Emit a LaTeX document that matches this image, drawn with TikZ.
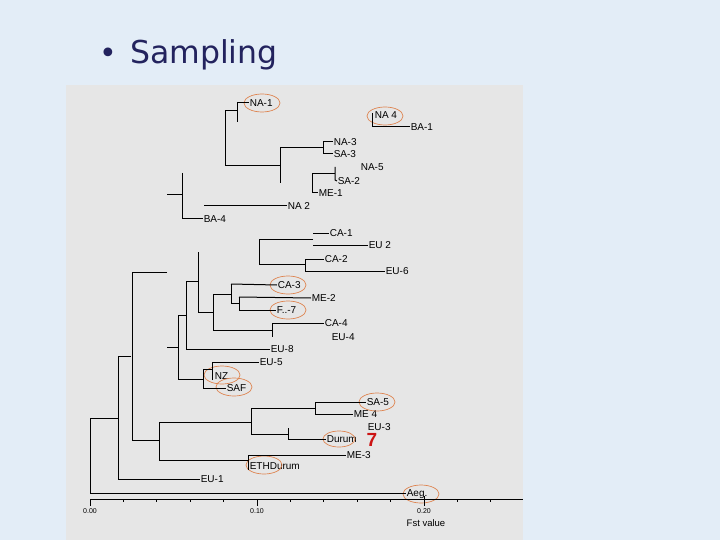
\documentclass[tikz,border=0pt]{standalone}
\usepackage{fontspec}
\setsansfont{Liberation Sans}
\newfontfamily\titlefont{DejaVu Sans}
\usetikzlibrary{shapes.geometric}
\definecolor{bgblue}{HTML}{E3EDF7}
\definecolor{panelgray}{HTML}{E6E6E6}
\definecolor{ringcol}{HTML}{DE8450}
\definecolor{navy}{HTML}{23235E}
\definecolor{markred}{HTML}{CC1414}
\tikzset{every node/.append style={font=\sffamily}}

\begin{document}
\begin{tikzpicture}[
  x=1pt, y=-1pt,
  branch/.style={line width=1pt, black},
  leaf/.style={anchor=west, inner sep=0.6pt, text height=7.2pt, text depth=0pt,
    font=\sffamily\fontsize{10}{10}\selectfont},
  ring/.style={draw=ringcol, line width=0.7pt, ellipse, inner sep=0pt,
    minimum width=36pt, minimum height=18pt},
  ticklabel/.style={font=\sffamily\fontsize{7}{7}\selectfont, inner sep=0pt}
]
\useasboundingbox (0,0) rectangle (720,540);
\fill[bgblue] (0,0) rectangle (720,540);
\fill[panelgray] (66,85) rectangle (523,540);

% title
\node[anchor=base, inner sep=0, text=navy, font=\titlefont\fontsize{30}{30}\selectfont] (dot) at (108,64) {•};
\node[anchor=base west, inner sep=0, text=navy, font=\titlefont\fontsize{31.5}{31.5}\selectfont] (title) at (130,64) {Sampling};

% leaves
\node[leaf] (na1) at (249,103) {NA-1};
\node[leaf] (na4) at (374,115) {NA 4};
\node[leaf] (ba1) at (410,127) {BA-1};
\node[leaf] (na3) at (333,142) {NA-3};
\node[leaf] (sa3) at (333,154) {SA-3};
\node[leaf] (na5) at (360,167) {NA-5};
\node[leaf] (sa2) at (337,181) {SA-2};
\node[leaf] (me1) at (318,193) {ME-1};
\node[leaf] (na2) at (287,206) {NA 2};
\node[leaf] (ba4) at (203,219) {BA-4};
\node[leaf] (ca1) at (329,233) {CA-1};
\node[leaf] (eu2) at (368,245) {EU 2};
\node[leaf] (ca2) at (324,259) {CA-2};
\node[leaf] (eu6) at (385,271) {EU-6};
\node[leaf] (ca3) at (277,285) {CA-3};
\node[leaf] (me2) at (311,298) {ME-2};
\node[leaf] (f7)  at (276,310) {F..-7};
\node[leaf] (ca4) at (324,323) {CA-4};
\node[leaf] (eu4) at (331,337) {EU-4};
\node[leaf] (eu8) at (270,349) {EU-8};
\node[leaf] (eu5) at (259,362) {EU-5};
\node[leaf] (nz)  at (214,376) {NZ};
\node[leaf] (saf) at (226,388) {SAF};
\node[leaf] (sa5) at (366,402) {SA-5};
\node[leaf] (me4) at (353,414) {ME 4};
\node[leaf] (eu3) at (367,427) {EU-3};
\node[leaf] (durum) at (326,439) {Durum};
\node[leaf] (me3) at (346,455) {ME-3};
\node[leaf] (eth) at (249,466) {ETHDurum};
\node[leaf] (eu1) at (200,479) {EU-1};
\node[leaf] (aeg) at (406,493) {Aeg.};
\node[font=\sffamily\bfseries\fontsize{19}{19}\selectfont, text=markred, inner sep=0] (seven) at (372,440) {7};

% circled samples
\node[ring] (rna1) at (262,103) {};
\node[ring] (rna4) at (385,116) {};
\node[ring] (rca3) at (288,285) {};
\node[ring] (rf7)  at (288,310) {};
\node[ring] (rnz)  at (222,375) {};
\node[ring] (rsaf) at (234,387) {};
\node[ring] (rsa5) at (377,402) {};
\node[ring, minimum width=32pt, minimum height=16pt] (rdurum) at (339,439) {};
\node[ring] (reth) at (264,465) {};
\node[ring] (raeg) at (421,494) {};

% upper clade
\draw[branch] (167,195) -- (182,195);
\draw[branch] (182,173) -- (182,219) -- (ba4.west);
\draw[branch] (204,206) -- (na2.west);
\draw[branch] (237,111) -- (225,111) -- (225,166) -- (280,166);
\draw[branch] (237,102) -- (237,122);
\draw[branch] (237,103) -- (na1.west);
\draw[branch] (280,183) -- (280,148) -- (323,148);
\draw[branch] (323,142) -- (323,154);
\draw[branch] (323,142) -- (na3.west);
\draw[branch] (323,154) -- (sa3.west);
\draw[branch] (312,193) -- (312,174) -- (335,174);
\draw[branch] (335,167) -- (335,180) -- (sa2.west);
\draw[branch] (312,193) -- (me1.west);
\draw[branch] (372,113) -- (372,127) -- (ba1.west);

% middle clade
\draw[branch] (167,272) -- (132,272) -- (132,440);
\draw[branch] (167,347) -- (178,347);
\draw[branch] (186,315) -- (178,315) -- (178,379) -- (203,379);
\draw[branch] (198,281) -- (186,281) -- (186,349) -- (eu8.west);
\draw[branch] (198,252) -- (198,312) -- (213,312);
\draw[branch] (231,294) -- (213,294) -- (213,330) -- (272,330);
\draw[branch] (231,284) -- (231,303) -- (239,303);
\draw[branch] (231,284) -- (ca3.west);
\draw[branch] (239,297) -- (239,310) -- (f7.west);
\draw[branch] (239,297) -- (me2.west);
\draw[branch] (272,323) -- (272,337);
\draw[branch] (272,323) -- (ca4.west);
\draw[branch] (313,239) -- (259,239) -- (259,264) -- (305,264);
\draw[branch] (313,233) -- (ca1.west);
\draw[branch] (313,245) -- (eu2.west);
\draw[branch] (305,259) -- (305,271) -- (eu6.west);
\draw[branch] (305,259) -- (ca2.west);
\draw[branch] (212,369) -- (203,369) -- (203,388) -- (saf.west);
\draw[branch] (212,380) -- (212,362) -- (eu5.west);

% lower clade
\draw[branch] (132,440) -- (159,440);
\draw[branch] (251,422) -- (159,422) -- (159,460) -- (248,460);
\draw[branch] (315,408) -- (251,408) -- (251,434) -- (288,434);
\draw[branch] (315,402) -- (315,414) -- (me4.west);
\draw[branch] (315,402) -- (sa5.west);
\draw[branch] (288,428) -- (288,439) -- (durum.west);
\draw[branch] (248,470) -- (248,455) -- (me3.west);

% root
\draw[branch] (131,356) -- (118,356) -- (118,479) -- (eu1.west);
\draw[branch] (118,418) -- (90,418) -- (90,493) -- (aeg.west);

% scale
\coordinate (axl) at (90,499);
\coordinate (axr) at (523,499);
\draw[line width=0.8pt] (axl) -- (axr);
\foreach \t in {0,...,12}{
  \pgfmathsetmacro{\tx}{90+\t*33.4}
  \ifnum\t=0 \draw[line width=0.8pt] (\tx,499) -- (\tx,506);
  \else\ifnum\t=5 \draw[line width=0.8pt] (\tx,499) -- (\tx,506);
  \else\ifnum\t=10 \draw[line width=0.8pt] (\tx,496) -- (\tx,506);
  \else \draw[line width=0.8pt] (\tx,499) -- (\tx,502);
  \fi\fi\fi
}
\node[ticklabel] (t0) at (90,511) {0.00};
\node[ticklabel] (t1) at (257,511) {0.10};
\node[ticklabel] (t2) at (424,511) {0.20};
\node[font=\sffamily\fontsize{9.5}{9.5}\selectfont, inner sep=0] (axtitle) at (426,523) {Fst value};
\end{tikzpicture}
\end{document}
